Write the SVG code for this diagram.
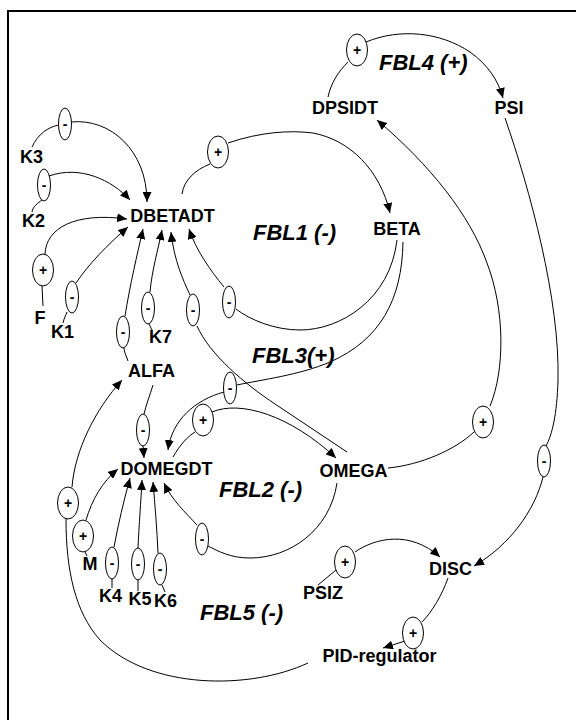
<svg xmlns="http://www.w3.org/2000/svg" width="576" height="720" viewBox="0 0 576 720">
<defs>
<marker id="ah" markerUnits="userSpaceOnUse" markerWidth="10" markerHeight="9" refX="10" refY="4.5" orient="auto">
<path d="M0,0 L10,4.5 L0,9 z" fill="#000"/>
</marker>
<style>
.n{font-family:"Liberation Sans",Arial,sans-serif;font-weight:bold;font-size:18px;fill:#000;text-anchor:middle}
.fbl{font-family:"Liberation Sans",Arial,sans-serif;font-weight:bold;font-style:italic;font-size:22px;fill:#000}
.c{fill:none;stroke:#000;stroke-width:1}
.a{marker-end:url(#ah)}
.o{fill:#fff;stroke:#000;stroke-width:1}
.s{font-family:"Liberation Sans",Arial,sans-serif;font-weight:bold;font-size:14px;fill:#000;text-anchor:middle}
</style>
</defs>
<rect width="576" height="720" fill="#fff"/>
<rect x="8" y="11" width="620" height="730" fill="none" stroke="#000" stroke-width="2"/>

<g id="connectors">
<!-- K3 -->
<path class="c" d="M32,147 C38,134 48,127 59,125"/>
<path class="c a" d="M71,122 C110,118 147,150 147,202"/>
<!-- K2 -->
<path class="c" d="M32,212 C33,206 38,203 42,200"/>
<path class="c a" d="M49,176 C80,165 112,180 130,200"/>
<!-- F -->
<path class="c" d="M43,306 L42,286"/>
<path class="c a" d="M45,254 C46,228 75,212 127,219"/>
<!-- K1 -->
<path class="c" d="M63,323 C64,318 66,315 67,312"/>
<path class="c a" d="M76,283 C88,265 108,244 128,227"/>
<!-- ALFA to DBETADT -->
<path class="c" d="M128,361 C126,355 124,352 124,348"/>
<path class="c a" d="M125,316 C130,285 137,255 143,229"/>
<!-- K7 -->
<path class="c" d="M152,330 L149,324"/>
<path class="c a" d="M150,292 C152,270 158,250 162,230"/>
<!-- OMEGA to DBETADT -->
<path class="c" d="M347,452 L275,404 C245,384 210,355 197,326"/>
<path class="c a" d="M190,295 C183,280 174,260 171,232"/>
<!-- BETA to DBETADT -->
<path class="c" d="M397,240 C390,300 340,330 300,330 C275,330 250,320 236,309"/>
<path class="c a" d="M224,287 C210,270 196,250 189,229"/>
<!-- BETA to DOMEGDT -->
<path class="c" d="M403,242 C402,300 380,340 330,362 C300,375 260,380 237,385"/>
<path class="c a" d="M224,392 C195,400 172,420 168,450"/>
<!-- DOMEGDT to OMEGA -->
<path class="c" d="M173,457 C180,445 187,437 195,432"/>
<path class="c a" d="M212,412 C240,400 290,415 336,458"/>
<!-- ALFA to DOMEGDT -->
<path class="c" d="M153,385 C150,395 146,405 144,414"/>
<path class="c a" d="M143,446 L144,458"/>
<!-- PID to ALFA -->
<path class="c" d="M308,663 C250,690 150,690 100,640 C75,612 66,570 66,519"/>
<path class="c a" d="M72,487 C75,450 95,410 122,380"/>
<!-- M -->
<path class="c" d="M87,556 L85,552"/>
<path class="c a" d="M86,520 C92,500 102,482 118,469"/>
<!-- K4 -->
<path class="c" d="M112,588 L112,579"/>
<path class="c a" d="M114,547 C118,525 124,500 130,478"/>
<!-- K5 -->
<path class="c" d="M138,591 L138,580"/>
<path class="c a" d="M138,548 C139,525 141,500 142,480"/>
<!-- K6 -->
<path class="c" d="M165,592 L162,585"/>
<path class="c a" d="M158,553 C157,530 155,505 153,482"/>
<!-- OMEGA to DOMEGDT -->
<path class="c" d="M337,483 C330,530 290,558 250,558 C230,558 218,551 208,546"/>
<path class="c a" d="M197,525 C185,512 172,500 164,483"/>
<!-- OMEGA to DPSIDT -->
<path class="c" d="M388,468 C420,465 455,450 474,432"/>
<path class="c a" d="M490,406 C505,370 505,310 487,263 C470,215 430,165 377,120"/>
<!-- DPSIDT to PSI -->
<path class="c" d="M328,97 C331,83 338,72 348,62"/>
<path class="c a" d="M366,42 C400,28 440,32 470,52 C488,65 498,80 503,98"/>
<!-- PSI to DISC -->
<path class="c" d="M505,118 C530,190 560,300 558,380 C557,415 552,435 546,446"/>
<path class="c a" d="M543,477 C535,510 510,545 474,566"/>
<!-- PSIZ to DISC -->
<path class="c" d="M318,585 L336,570"/>
<path class="c a" d="M355,552 C375,538 410,530 440,557"/>
<!-- DISC to PID -->
<path class="c" d="M448,578 C442,595 432,612 422,622"/>
<path class="c a" d="M405,641 L383,648"/>
<!-- DBETADT to BETA -->
<path class="c" d="M182,194 C184,180 195,170 210,164"/>
<path class="c a" d="M228,143 C260,132 290,130 313,133 C350,140 380,170 390,213"/>

<g id="signs">
<g><ellipse class="o" cx="65" cy="124" rx="6.5" ry="16"/><text class="s" x="65" y="128.5">-</text></g>
<g><ellipse class="o" cx="44" cy="185" rx="6.5" ry="16"/><text class="s" x="44" y="189.5">-</text></g>
<g><ellipse class="o" cx="43" cy="270" rx="10.5" ry="16"/><text class="s" x="43" y="275">+</text></g>
<g><ellipse class="o" cx="72" cy="297" rx="6.5" ry="16"/><text class="s" x="72" y="301.5">-</text></g>
<g><ellipse class="o" cx="123" cy="332" rx="6.5" ry="16"/><text class="s" x="123" y="336.5">-</text></g>
<g><ellipse class="o" cx="148" cy="308" rx="6.5" ry="16"/><text class="s" x="148" y="312.5">-</text></g>
<g><ellipse class="o" cx="193" cy="310" rx="6.5" ry="16"/><text class="s" x="193" y="314.5">-</text></g>
<g><ellipse class="o" cx="229" cy="302" rx="6.5" ry="16"/><text class="s" x="229" y="306.5">-</text></g>
<g><ellipse class="o" cx="230" cy="388" rx="6.5" ry="16"/><text class="s" x="230" y="392.5">-</text></g>
<g><ellipse class="o" cx="203" cy="420" rx="10.5" ry="16"/><text class="s" x="203" y="425">+</text></g>
<g><ellipse class="o" cx="143" cy="430" rx="6.5" ry="16"/><text class="s" x="143" y="434.5">-</text></g>
<g><ellipse class="o" cx="68" cy="503" rx="10.5" ry="16"/><text class="s" x="68" y="508">+</text></g>
<g><ellipse class="o" cx="83" cy="536" rx="10.5" ry="16"/><text class="s" x="83" y="541">+</text></g>
<g><ellipse class="o" cx="112" cy="563" rx="6.5" ry="16"/><text class="s" x="112" y="567.5">-</text></g>
<g><ellipse class="o" cx="138" cy="564" rx="6.5" ry="16"/><text class="s" x="138" y="568.5">-</text></g>
<g><ellipse class="o" cx="160" cy="569" rx="6.5" ry="16"/><text class="s" x="160" y="573.5">-</text></g>
<g><ellipse class="o" cx="202" cy="539" rx="6.5" ry="16"/><text class="s" x="202" y="543.5">-</text></g>
<g><ellipse class="o" cx="483" cy="422" rx="10.5" ry="16"/><text class="s" x="483" y="427">+</text></g>
<g><ellipse class="o" cx="357" cy="50" rx="10.5" ry="16"/><text class="s" x="357" y="55">+</text></g>
<g><ellipse class="o" cx="544" cy="461" rx="6.5" ry="16"/><text class="s" x="544" y="465.5">-</text></g>
<g><ellipse class="o" cx="345" cy="562" rx="10.5" ry="16"/><text class="s" x="345" y="567">+</text></g>
<g><ellipse class="o" cx="413" cy="633" rx="10.5" ry="16"/><text class="s" x="413" y="638">+</text></g>
<g><ellipse class="o" cx="218" cy="152" rx="10.5" ry="16"/><text class="s" x="218" y="157">+</text></g>
</g>
</g>

<g id="K3"><text class="n" x="31.5" y="163">K3</text></g>
<g id="K2"><text class="n" x="33.5" y="227">K2</text></g>
<g id="DBETADT"><text class="n" x="172.5" y="222">DBETADT</text></g>
<g id="F"><text class="n" x="40" y="324">F</text></g>
<g id="K1"><text class="n" x="62.5" y="338">K1</text></g>
<g id="K7"><text class="n" x="160.5" y="343">K7</text></g>
<g id="ALFA"><text class="n" x="151.5" y="377">ALFA</text></g>
<g id="DOMEGDT"><text class="n" x="166.5" y="475">DOMEGDT</text></g>
<g id="M"><text class="n" x="90" y="570">M</text></g>
<g id="K4"><text class="n" x="110.5" y="602">K4</text></g>
<g id="K5"><text class="n" x="140" y="605">K5</text></g>
<g id="K6"><text class="n" x="165.5" y="607">K6</text></g>
<g id="BETA"><text class="n" x="397" y="235">BETA</text></g>
<g id="DPSIDT"><text class="n" x="345" y="114">DPSIDT</text></g>
<g id="PSI"><text class="n" x="509" y="114">PSI</text></g>
<g id="OMEGA"><text class="n" x="353.5" y="477">OMEGA</text></g>
<g id="DISC"><text class="n" x="450.5" y="575">DISC</text></g>
<g id="PSIZ"><text class="n" x="323" y="599">PSIZ</text></g>
<g id="PID"><text class="n" x="379.5" y="662">PID-regulator</text></g>

<g id="loops">
<text class="fbl" x="253" y="240">FBL1 (-)</text>
<text class="fbl" x="252" y="363">FBL3(+)</text>
<text class="fbl" x="379" y="70">FBL4 (+)</text>
<text class="fbl" x="219" y="497">FBL2 (-)</text>
<text class="fbl" x="200" y="620">FBL5 (-)</text>
</g>
</svg>
